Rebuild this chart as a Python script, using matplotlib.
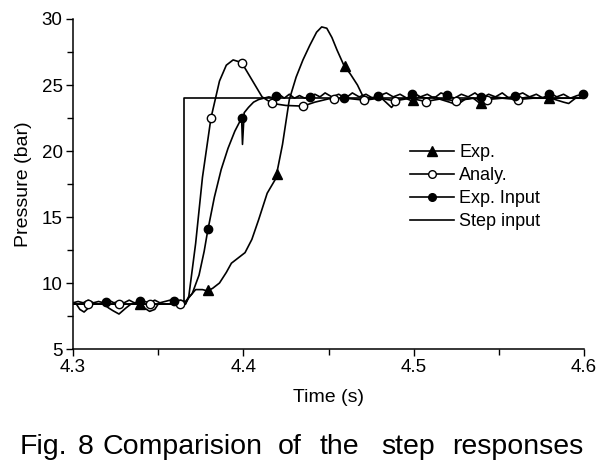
import matplotlib
matplotlib.use("Agg")
import matplotlib.pyplot as plt
import numpy as np
from matplotlib.ticker import MultipleLocator

plt.rcParams["font.family"] = ["Liberation Sans", "DejaVu Sans"]

# step input
step_t = [4.300, 4.365, 4.365, 4.600]
step_p = [8.4, 8.4, 24.0, 24.0]

# analytical response
analy_t = [4.300, 4.366, 4.368, 4.372, 4.376, 4.381, 4.386, 4.390, 4.394,
           4.399, 4.405, 4.411, 4.417, 4.425, 4.435, 4.442, 4.450, 4.460,
           4.471, 4.480, 4.489, 4.498, 4.507, 4.516, 4.525, 4.534, 4.543,
           4.552, 4.561, 4.570, 4.580, 4.590, 4.600]
analy_p = [8.4, 8.4, 9.0, 13.0, 18.0, 22.5, 25.3, 26.5, 26.9,
           26.7, 25.4, 24.1, 23.6, 23.45, 23.4, 23.7, 23.95, 24.0,
           23.85, 24.0, 23.8, 24.0, 23.75, 23.95, 23.8, 24.0, 23.9,
           24.0, 23.9, 24.0, 24.0, 24.0, 24.0]
analy_marks = [4.309, 4.327, 4.345, 4.363, 4.381, 4.399, 4.417, 4.435,
               4.453, 4.471, 4.489, 4.507, 4.525, 4.543, 4.561]

# measured response
exp_t = [4.300, 4.302, 4.304, 4.3065, 4.309, 4.311, 4.318, 4.321, 4.3235,
         4.327, 4.331, 4.334, 4.340, 4.342, 4.345, 4.348, 4.350, 4.366,
         4.368, 4.372, 4.376, 4.379, 4.382, 4.386, 4.390, 4.393, 4.397,
         4.401, 4.405, 4.409, 4.414, 4.419, 4.423, 4.427, 4.431, 4.435,
         4.439, 4.443, 4.446, 4.449, 4.452, 4.455, 4.459, 4.463, 4.467,
         4.470, 4.474, 4.478, 4.482, 4.487, 4.491, 4.495, 4.499, 4.503,
         4.508, 4.512, 4.516, 4.521, 4.5255, 4.530, 4.535, 4.539, 4.543,
         4.548, 4.553, 4.558, 4.563, 4.568, 4.573, 4.578, 4.583, 4.588,
         4.591, 4.595, 4.600]
exp_p = [8.4, 8.4, 8.0, 7.8, 8.1, 8.4, 8.4, 8.1, 7.9,
         7.65, 8.1, 8.4, 8.4, 8.1, 7.85, 8.0, 8.4, 8.4,
         8.9, 9.5, 9.5, 9.4, 9.6, 10.0, 10.8, 11.5, 11.9,
         12.3, 13.3, 14.8, 16.8, 17.9, 20.5, 23.9, 25.6, 26.9,
         28.0, 29.0, 29.4, 29.3, 28.6, 27.65, 26.5, 25.8, 25.0,
         24.2, 24.0, 24.1, 23.9, 23.3, 23.9, 24.0, 23.8, 24.1,
         24.0, 24.1, 23.9, 23.7, 23.5, 23.9, 24.0, 23.6, 24.0,
         24.1, 24.0, 24.1, 24.0, 24.1, 24.0, 24.1, 23.9, 23.7,
         23.6, 24.0, 24.1]
exp_marks = [4.3395, 4.3795, 4.4195, 4.4595, 4.4995, 4.5395, 4.5795]

# measured input pressure
inp_t = [4.300, 4.303, 4.306, 4.309, 4.312, 4.315, 4.318, 4.321, 4.324,
         4.327, 4.330, 4.333, 4.336, 4.339, 4.342, 4.345, 4.348, 4.351,
         4.354, 4.357, 4.360, 4.363, 4.366, 4.370, 4.374, 4.377, 4.379,
         4.383, 4.387, 4.391, 4.395, 4.399, 4.3995, 4.4005, 4.403, 4.406,
         4.409, 4.412, 4.415, 4.418, 4.421, 4.424, 4.427, 4.430, 4.433,
         4.436, 4.439, 4.442, 4.445, 4.448, 4.452, 4.456, 4.460, 4.464,
         4.468, 4.472, 4.476, 4.480, 4.484, 4.488, 4.492, 4.496, 4.500,
         4.504, 4.508, 4.512, 4.516, 4.520, 4.524, 4.528, 4.532, 4.536,
         4.540, 4.544, 4.548, 4.552, 4.556, 4.560, 4.564, 4.568, 4.572,
         4.576, 4.580, 4.584, 4.588, 4.592, 4.596, 4.600]
inp_p = [8.5, 8.6, 8.5, 8.7, 8.5, 8.6, 8.5, 8.7, 8.5,
         8.6, 8.5, 8.7, 8.5, 8.6, 8.6, 8.5, 8.7, 8.5,
         8.6, 8.7, 8.6, 8.7, 8.6, 9.2, 10.6, 12.4, 13.9,
         16.5, 18.6, 20.2, 21.5, 22.5, 20.5, 22.9, 23.3, 23.7,
         23.9, 24.0, 24.1, 24.0, 24.3, 24.0, 24.3, 24.0, 24.2,
         24.0, 24.1, 24.3, 24.1, 24.4, 24.1, 24.3, 24.0, 24.4,
         24.1, 24.3, 24.0, 24.2, 24.4, 24.1, 24.3, 24.0, 24.4,
         24.1, 24.3, 24.0, 24.4, 24.2, 24.0, 24.3, 24.1, 24.4,
         24.0, 24.3, 24.1, 24.4, 24.0, 24.2, 24.4, 24.1, 24.3,
         24.0, 24.4, 24.1, 24.3, 24.0, 24.2, 24.3]
inp_marks = [4.3193, 4.3393, 4.3593, 4.3793, 4.399, 4.4193, 4.4393, 4.4593,
             4.4793, 4.4993, 4.5193, 4.5393, 4.5593, 4.5793, 4.5993]

caption_words = ["Fig.", "8", "Comparision", "of", "the", "step", "responses"]
caption_x = [20, 78, 103, 278, 320, 381, 452]

LW = 1.2


def main() -> None:
    fig = plt.figure(figsize=(6.16, 4.74), dpi=100)
    ax = fig.add_axes([73 / 616, 125 / 474, 511 / 616, 330 / 474])

    ax.plot(step_t, step_p, color="black", lw=LW)
    ax.plot(analy_t, analy_p, color="black", lw=LW)
    ax.plot(inp_t, inp_p, color="black", lw=LW)
    ax.plot(exp_t, exp_p, color="black", lw=LW)

    ax.plot(analy_marks, np.interp(analy_marks, analy_t, analy_p), "o",
            ms=6, mfc="white", mec="black", mew=1.0, clip_on=False)
    ax.plot(inp_marks, np.interp(inp_marks, inp_t, inp_p), "o",
            ms=6, mfc="black", mec="black", clip_on=False)
    ax.plot(exp_marks, np.interp(exp_marks, exp_t, exp_p), "^",
            ms=7, mfc="black", mec="black", clip_on=False)

    # legend proxies
    h1, = ax.plot([], [], "-^", color="black", lw=LW, ms=7)
    h2, = ax.plot([], [], "-o", color="black", lw=LW, ms=5.5, mfc="white", mew=1.0)
    h3, = ax.plot([], [], "-o", color="black", lw=LW, ms=5.5)
    h4, = ax.plot([], [], "-", color="black", lw=LW)
    ax.legend([h1, h2, h3, h4], ["Exp.", "Analy.", "Exp. Input", "Step input"],
              loc="upper left", bbox_to_anchor=(0.66, 0.62), frameon=False,
              fontsize=13, handlelength=2.4, handletextpad=0.3,
              labelspacing=0.33, borderpad=0, borderaxespad=0)

    ax.set_xlim(4.3, 4.6)
    ax.set_ylim(5, 30)
    ax.xaxis.set_major_locator(MultipleLocator(0.1))
    ax.xaxis.set_minor_locator(MultipleLocator(0.05))
    ax.yaxis.set_major_locator(MultipleLocator(5))
    ax.yaxis.set_minor_locator(MultipleLocator(2.5))
    ax.xaxis.set_major_formatter(plt.FuncFormatter(lambda v, p: f"{v:.1f}"))
    ax.tick_params(which="major", length=5, width=1, labelsize=13.5, pad=2.5)
    ax.tick_params(which="minor", length=4, width=1)
    ax.spines["top"].set_visible(False)
    ax.spines["right"].set_visible(False)
    for s in ["left", "bottom"]:
        ax.spines[s].set_linewidth(1.1)

    ax.set_xlabel("Time (s)", fontsize=14, labelpad=9)
    ax.set_ylabel("Pressure (bar)", fontsize=14, labelpad=7)

    for word, x in zip(caption_words, caption_x):
        fig.text(x / 616, 1 - 447 / 474, word, fontsize=20.5, ha="left", va="center")

    fig.savefig("out.png", dpi=100)
    plt.close("all")


if __name__ == "__main__":
    main()
